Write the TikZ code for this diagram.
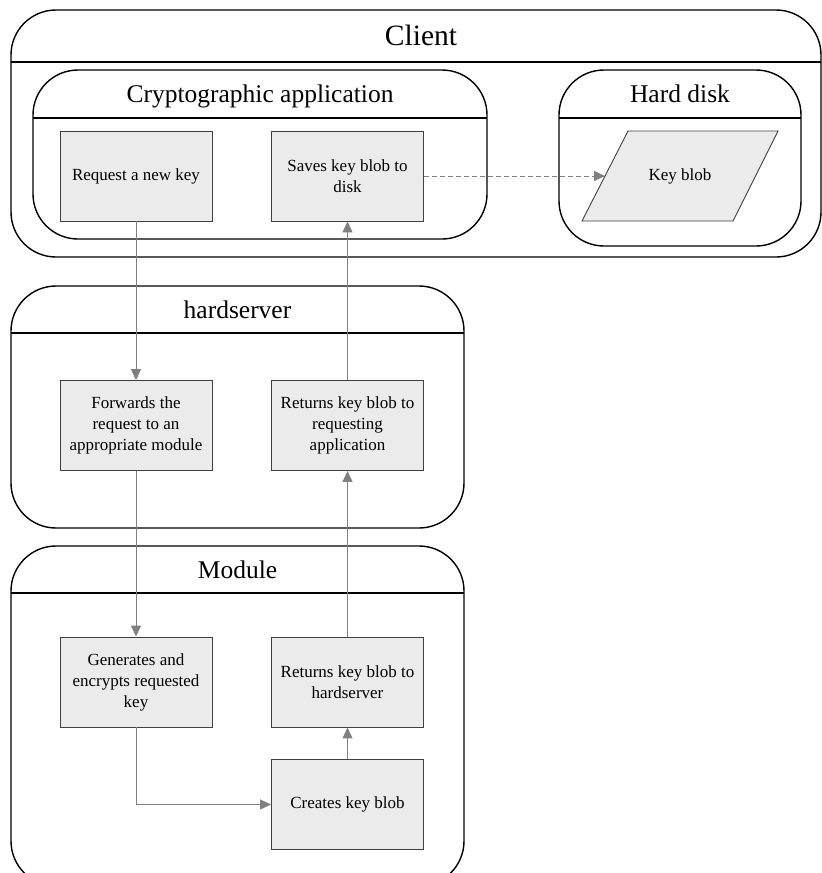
\documentclass[tikz,border=0pt]{standalone}
\usepackage{fontspec}
\setmainfont{Liberation Serif}
\usetikzlibrary{arrows.meta}
\definecolor{boxfill}{HTML}{EBEBEB}
\definecolor{boxline}{HTML}{404040}
\definecolor{flow}{HTML}{808080}

\begin{document}
\begin{tikzpicture}[x=1pt,y=-1pt,
  lane/.style={draw=black,line width=1.4pt,rounded corners=45pt},
  divider/.style={draw=black,line width=1.4pt},
  stepbox/.style={draw=boxline,fill=boxfill,line width=0.9pt,minimum width=152pt,
    minimum height=90pt,inner sep=0pt,align=center,
    font=\fontsize{17}{21}\selectfont},
  lanetitle/.style={anchor=base,font=\fontsize{25.5}{30}\selectfont},
  flowarrow/.style={draw=flow,line width=1pt,-{Triangle[length=11pt,width=10pt]}}
]
\clip (0,0) rectangle (822,873);

% swimlanes
\draw[lane] (11,10) rectangle (821,257);
\draw[divider] (11,62) -- (821,62);
\node[lanetitle,font=\fontsize{29.5}{34}\selectfont] (tclient) at (421,45) {Client};

\draw[lane] (33,70) rectangle (487,239);
\draw[divider] (33,118) -- (487,118);
\node[lanetitle] (tapp) at (260,102) {Cryptographic application};

\draw[lane] (559,70) rectangle (801,246);
\draw[divider] (559,118) -- (801,118);
\node[lanetitle] (tdisk) at (680,102) {Hard disk};

\draw[lane] (11,286) rectangle (464,528);
\draw[divider] (11,333) -- (464,333);
\node[lanetitle] (thard) at (237.5,318) {hardserver};

\draw[lane] (11,546) rectangle (464,886);
\draw[divider] (11,593) -- (464,593);
\node[lanetitle] (tmod) at (237.5,578) {Module};

% process steps
\node[stepbox] (request) at (136,176) {Request a new key};
\node[stepbox] (saves) at (347.5,176) {Saves key blob to\\disk};
\node[stepbox] (forward) at (136,425.5) {Forwards the\\request to an\\appropriate module};
\node[stepbox] (reths) at (347.5,425.5) {Returns key blob to\\requesting\\application};
\node[stepbox] (generate) at (136,682) {Generates and\\encrypts requested\\key};
\node[stepbox] (retmod) at (347.5,682) {Returns key blob to\\hardserver};
\node[stepbox] (create) at (347.5,804.5) {Creates key blob};

% stored data
\draw[draw=boxline,fill=boxfill,line width=0.9pt]
  (628,131) -- (778,131) -- (733,221) -- (582,221) -- cycle;
\node[font=\fontsize{17}{21}\selectfont] (keyblob) at (680,176) {Key blob};
\coordinate (kbin) at (605,176);

% flow
\draw[flowarrow] (request.south) -- (forward.north);
\draw[flowarrow] (forward.south) -- (generate.north);
\draw[flowarrow] (generate.south) |- (create.west);
\draw[flowarrow] (create.north) -- (retmod.south);
\draw[flowarrow] (retmod.north) -- (reths.south);
\draw[flowarrow] (reths.north) -- (saves.south);
\draw[flowarrow,dash pattern=on 5pt off 3pt] (saves.east) -- (kbin);
\end{tikzpicture}
\end{document}
